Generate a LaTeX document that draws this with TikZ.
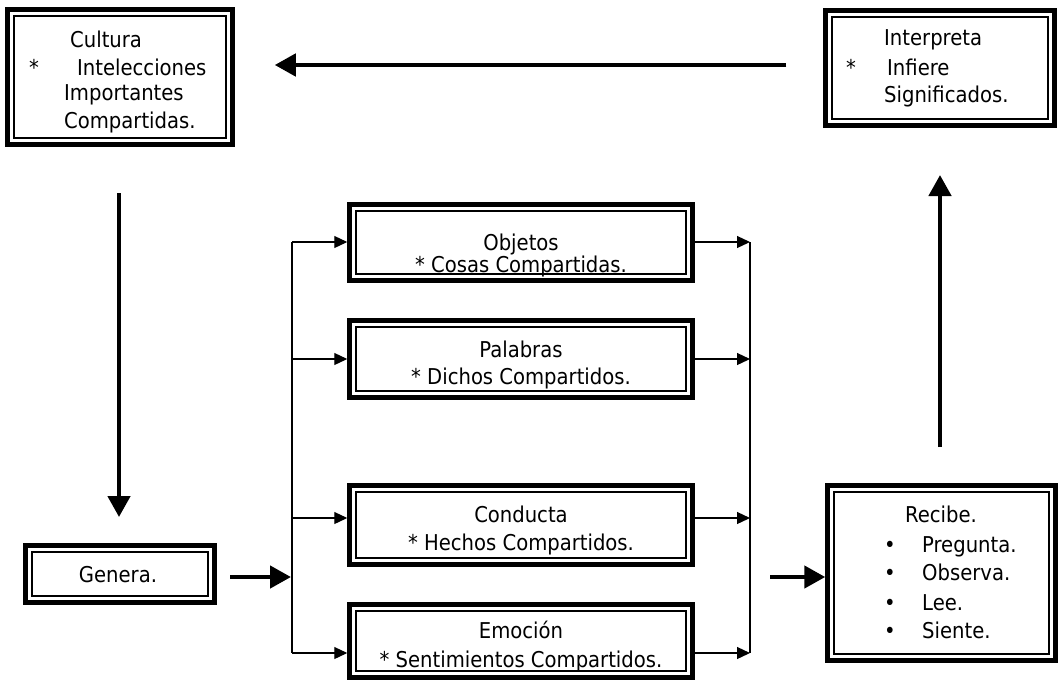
\documentclass[tikz,border=0pt]{standalone}
\usepackage{fontspec}
\setmainfont{DejaVu Sans Condensed}
\usetikzlibrary{arrows.meta}

\tikzset{
  frame/.style={draw, line width=4.5pt, inner sep=0pt,
    path picture={\draw[line width=1.3pt]
      ([shift={(6.5pt,6.5pt)}]path picture bounding box.south west) rectangle
      ([shift={(-6.5pt,-6.5pt)}]path picture bounding box.north east);}},
  txt/.style={inner sep=0pt, font=\fontsize{21.8}{27}\selectfont},
  lbl/.style={txt, anchor=base west},
  clbl/.style={txt, anchor=base},
  thin/.style={line width=1.2pt, -{Triangle[length=13pt,width=12pt]}},
  bus/.style={line width=1.2pt},
  bold/.style={line width=4.5pt, -{Triangle[length=21pt,width=22pt]}}
}

\begin{document}
\begin{tikzpicture}[x=1pt,y=-1pt]
\useasboundingbox[fill=white] (0,0) rectangle (1064,681);

% boxes (centre, size of the thick outline path)
\node[frame, minimum width=225pt, minimum height=135pt] (cultura) at (120,77) {};
\node[frame, minimum width=229pt, minimum height=115pt] (interp)  at (940,68) {};
\node[frame, minimum width=189pt, minimum height=57pt]  (genera)  at (120,574) {};
\node[frame, minimum width=343pt, minimum height=76pt]  (objetos) at (521,242.5) {};
\node[frame, minimum width=343pt, minimum height=77pt]  (palabras) at (521,359) {};
\node[frame, minimum width=343pt, minimum height=79pt]  (conducta) at (521,525) {};
\node[frame, minimum width=343pt, minimum height=73pt]  (emocion) at (521,641) {};
\node[frame, minimum width=228pt, minimum height=175pt] (recibe)  at (941.5,573) {};

% texts
\node[lbl] (c1) at (70,47) {Cultura};
\node[lbl] (c2) at (29,75) {*};
\node[lbl] (c3) at (77,75) {Intelecciones};
\node[lbl] (c4) at (64,100) {Importantes};
\node[lbl] (c5) at (64,128) {Compartidas.};

\node[lbl] (i1) at (884,45) {Interpreta};
\node[lbl] (i2) at (846,75) {*};
\node[lbl] (i3) at (887,75) {Infiere};
\node[lbl] (i4) at (884,102) {Significados.};

\node[clbl] (g1) at (118,582) {Genera.};

\node[clbl] (o1) at (521,250) {Objetos};
\node[clbl] (o2) at (521,272) {* Cosas Compartidas.};
\node[clbl] (p1) at (521,357) {Palabras};
\node[clbl] (p2) at (521,384) {* Dichos Compartidos.};
\node[clbl] (k1) at (521,522) {Conducta};
\node[clbl] (k2) at (521,550) {* Hechos Compartidos.};
\node[clbl] (e1) at (521,638) {Emoción};
\node[clbl] (e2) at (521,667) {* Sentimientos Compartidos.};

\node[clbl] (r0) at (941,522) {Recibe.};
\node[clbl] (b1) at (890,552) {•};
\node[lbl]  (r1) at (922,552) {Pregunta.};
\node[clbl] (b2) at (890,580) {•};
\node[lbl]  (r2) at (922,580) {Observa.};
\node[clbl] (b3) at (890,610) {•};
\node[lbl]  (r3) at (922,610) {Lee.};
\node[clbl] (b4) at (890,638) {•};
\node[lbl]  (r4) at (922,638) {Siente.};

% bus lines
\coordinate (lt) at (292,242);
\coordinate (lb) at (292,653);
\coordinate (rt) at (750,242);
\coordinate (rb) at (750,653);
\draw[bus] (lt) -- (lb);
\draw[bus] (rt) -- (rb);

% branches into and out of the middle boxes
\draw[thin] (lt) -- (objetos.west |- lt);
\draw[thin] (lt |- palabras.west) -- (palabras.west);
\draw[thin] (292,518) -- (conducta.west |- 0,518);
\draw[thin] (lb) -- (emocion.west |- lb);
\draw[thin] (objetos.east |- rt) -- (rt);
\draw[thin] (palabras.east) -- (rt |- palabras.east);
\draw[thin] (conducta.east |- 0,518) -- (750,518);
\draw[thin] (emocion.east |- rb) -- (rb);

% main flow
\draw[bold] (interp.west |- 0,65) ++(-37,0) -- ([xshift=40pt]cultura.east |- 0,65);
\draw[bold] (119,193) -- (119,517);
\draw[bold] ([xshift=13.5pt]genera.east |- 0,577) -- (291,577);
\draw[bold] (770,577) -- (recibe.west |- 0,577);
\draw[bold] (940,447) -- (940,175);
\end{tikzpicture}
\end{document}
